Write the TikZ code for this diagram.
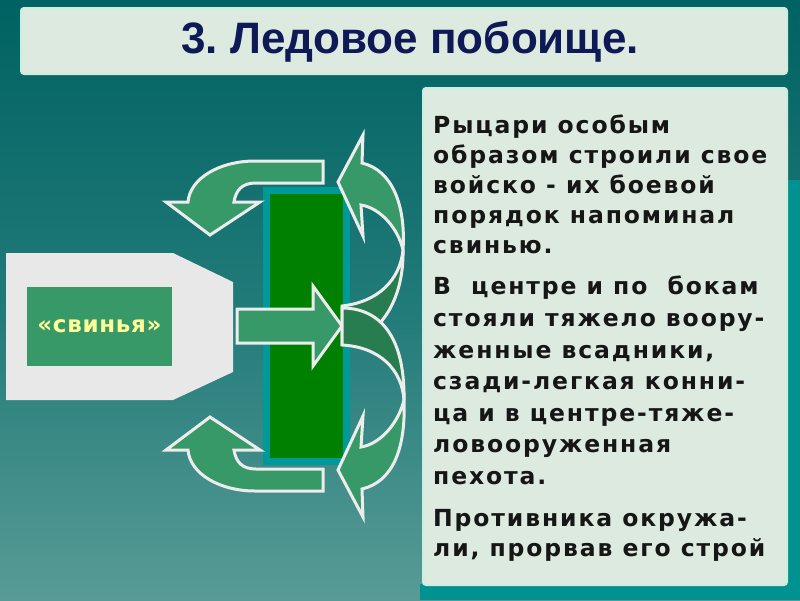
\documentclass[tikz,border=0pt]{standalone}
\usepackage{fontspec}
\setmainfont{DejaVu Sans}
\newfontfamily\titlefont{Liberation Sans}
\newfontfamily\bodyfont[LetterSpace=8]{DejaVu Sans}
\newfontfamily\pigfont[LetterSpace=3]{DejaVu Sans}
\definecolor{bgtop}{RGB}{0,98,98}
\definecolor{bgmid}{RGB}{32,122,120}
\definecolor{bgbot}{RGB}{88,155,150}
\definecolor{boxfill}{RGB}{221,234,224}
\definecolor{boxedge}{RGB}{205,238,222}
\definecolor{titlecol}{RGB}{15,25,85}
\definecolor{bodycol}{RGB}{22,22,22}
\definecolor{housegray}{RGB}{232,232,232}
\definecolor{arrowlight}{RGB}{56,153,104}
\definecolor{arrowdark}{RGB}{40,125,80}
\definecolor{arrowedge}{RGB}{236,236,236}
\definecolor{enemygreen}{RGB}{0,128,0}
\definecolor{enemyteal}{RGB}{0,153,153}
\definecolor{pigtext}{RGB}{255,255,153}
\definecolor{decoteal}{RGB}{0,145,145}
\frenchspacing
\begin{document}
\begin{tikzpicture}[x=1pt,y=-1pt,
  panel/.style={fill=boxfill, draw=boxedge, line width=2pt, rounded corners=3pt},
  lightarrow/.style={fill=arrowlight, draw=arrowedge, line width=3pt, line join=miter},
  darkarrow/.style={fill=arrowdark, draw=arrowedge, line width=3pt, line join=miter},
  enemybox/.style={draw=enemyteal, fill=enemygreen, line width=7pt, minimum width=80pt, minimum height=271pt, inner sep=0pt},
  pigbox/.style={fill=arrowlight, minimum width=145pt, minimum height=79pt, inner sep=0pt,
    text=pigtext, font=\pigfont\bfseries\fontsize{23}{26}\selectfont},
  bodytext/.style={anchor=north west, inner sep=0pt, align=left, text=bodycol}]
\useasboundingbox (0,0) rectangle (800,600);
% background
\shade[top color=bgtop, bottom color=bgbot, middle color=bgmid] (0,0) rectangle (800,600);
\fill[decoteal] (420,584) rectangle (800,600);
\fill[decoteal] (786,180) rectangle (800,600);
% panels
\draw[panel] (21,8) rectangle (787,74);
\draw[panel] (423,88) rectangle (787,585);
\node[font=\titlefont\bfseries\fontsize{44}{50}\selectfont, text=titlecol] (title) at (410,42) {3. Ледовое побоище.};
\node[bodytext, font=\bodyfont\bfseries\fontsize{23.5}{30}\selectfont] (para1) at (433,115)
  {\rule{0pt}{18pt}Рыцари особым\\образом строили свое\\войско - их боевой\\порядок напоминал\\свинью.};
\node[bodytext, font=\bodyfont\bfseries\fontsize{23.5}{31.6}\selectfont] (para2) at (433,276)
  {\rule{0pt}{18pt}В\ \ центре и по\ \ бокам\\стояли тяжело воору-\\женные всадники,\\сзади-легкая конни-\\ца и в центре-тяже-\\ловооруженная\\пехота.};
\node[bodytext, font=\bodyfont\bfseries\fontsize{23.5}{30}\selectfont] (para3) at (433,508)
  {\rule{0pt}{18pt}Противника окружа-\\ли, прорвав его строй};
% the "pig" formation
\fill[housegray] (6,253) -- (173,253) -- (233,282) -- (233,372) -- (173,400) -- (6,400) -- cycle;
\node[pigbox] (pig) at (99.5,326.5) {\raisebox{-4pt}{«свинья»}};
% enemy
\node[enemybox] (enemy) at (306.5,326) {};
% left arrows
\draw[lightarrow] (323,161) -- (255,161) .. controls (220,161) and (190,178) .. (188,202)
  -- (166,202) -- (210,235) -- (260,202) -- (234,202)
  .. controls (236,190) and (242,183) .. (256,183) -- (323,183) -- cycle;
\draw[lightarrow] (323,491) -- (255,491) .. controls (220,491) and (190,474) .. (188,450)
  -- (166,450) -- (210,417) -- (260,450) -- (234,450)
  .. controls (236,462) and (242,469) .. (256,469) -- (323,469) -- cycle;
% centre arrow
\draw[lightarrow] (237,309) -- (313,309) -- (313,286) -- (342,326) -- (313,366) -- (313,343) -- (237,343) -- cycle;
% right curved arrows: dark parts
\draw[darkarrow] (342,306) .. controls (378,302) and (400,280) .. (403,250)
  .. controls (404,300) and (380,338) .. (342,344) -- cycle;
\draw[darkarrow] (342,345) .. controls (380,347) and (402,370) .. (404,400)
  .. controls (405,330) and (375,308) .. (342,308) -- cycle;
% right curved arrows: light parts
\draw[lightarrow] (363,135) -- (362,163) .. controls (392,170) and (406,205) .. (403,250)
  .. controls (398,228) and (380,208) .. (361,205) -- (363,236) -- (338,182) -- cycle;
\draw[lightarrow] (363,517) -- (362,489) .. controls (392,482) and (406,450) .. (404,400)
  .. controls (398,424) and (380,444) .. (361,447) -- (363,416) -- (338,470) -- cycle;
\end{tikzpicture}
\end{document}
